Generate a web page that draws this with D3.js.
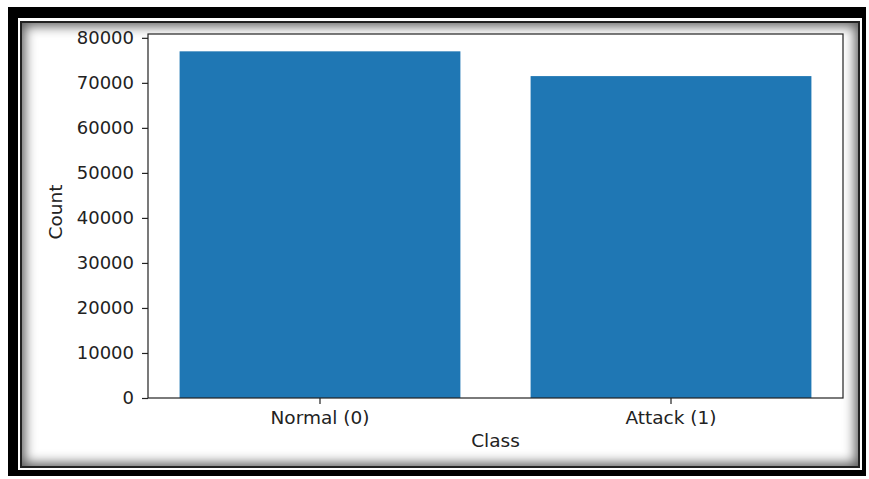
<!DOCTYPE html>
<html>
<head>
<meta charset="utf-8">
<script src="https://cdn.jsdelivr.net/npm/d3@7"></script>
<style>
    body { margin: 0; background: #fff; width: 869px; height: 479px; overflow: hidden; position: relative; }
    .frame-outer {
        position: absolute; left: 8px; top: 7px; width: 858px; height: 469px;
        background: #000; box-sizing: border-box;
    }
    .frame-gap {
        position: absolute; left: 18px; top: 18px; width: 844px; height: 452px;
        background: #fff;
    }
    .frame-inner {
        position: absolute; left: 20px; top: 21px; width: 840px; height: 447px;
        box-sizing: border-box; border: 2px solid #222; background: #fff;
        box-shadow: inset 0 0 12px 3px rgba(0,0,0,0.65);
    }
    #chart { position: absolute; left: 0; top: 0; }
</style>
</head>
<body>
<div class="frame-outer"></div>
<div class="frame-gap"></div>
<div class="frame-inner"></div>
<svg id="chart" width="869" height="479"></svg>
<script>
// Class balance bar chart

const categories = ['Normal (0)', 'Attack (1)'];
const counts = [77000, 71500];
const yTicks = [0, 10000, 20000, 30000, 40000, 50000, 60000, 70000, 80000];

const svg = d3.select('#chart');
const font = 'DejaVu Sans, sans-serif';

const plot = { left: 148, right: 843, top: 34, bottom: 398 };

const x = d3.scaleBand()
    .domain(categories)
    .range([plot.left, plot.right])
    .paddingInner(0.2)
    .paddingOuter(0.09);

const y = d3.scaleLinear()
    .domain([0, d3.max(counts) * 1.05])
    .range([plot.bottom, plot.top]);

// axes background
svg.append('rect')
    .attr('x', plot.left)
    .attr('y', plot.top)
    .attr('width', plot.right - plot.left)
    .attr('height', plot.bottom - plot.top)
    .style('fill', '#fff');

// bars
svg.append('g')
    .selectAll('rect')
    .data(categories)
    .enter()
    .append('rect')
    .attr('x', d => x(d))
    .attr('y', (d, i) => y(counts[i]))
    .attr('width', x.bandwidth())
    .attr('height', (d, i) => y(0) - y(counts[i]))
    .style('fill', '#1f77b4');

// spines
svg.append('rect')
    .attr('x', plot.left)
    .attr('y', plot.top)
    .attr('width', plot.right - plot.left)
    .attr('height', plot.bottom - plot.top)
    .style('fill', 'none')
    .style('stroke', '#222')
    .style('stroke-width', 1.2);

// y axis
const yAxis = svg.append('g')
    .attr('transform', `translate(${plot.left},0)`)
    .call(d3.axisLeft(y).tickValues(yTicks).tickSize(6).tickPadding(8).tickFormat(d3.format('d')));
yAxis.select('.domain').remove();
yAxis.selectAll('line').style('stroke', '#222').style('stroke-width', 1.2);
yAxis.selectAll('text')
    .style('font-family', font)
    .style('font-size', '18px')
    .style('fill', '#222');

// x axis
const xAxis = svg.append('g')
    .attr('transform', `translate(0,${plot.bottom})`)
    .call(d3.axisBottom(x).tickSize(6).tickPadding(7));
xAxis.select('.domain').remove();
xAxis.selectAll('line').style('stroke', '#222').style('stroke-width', 1.2);
xAxis.selectAll('text')
    .style('font-family', font)
    .style('font-size', '18.5px')
    .style('fill', '#222');

// axis labels
svg.append('text')
    .attr('x', (plot.left + plot.right) / 2)
    .attr('y', 447)
    .attr('text-anchor', 'middle')
    .style('font-family', font)
    .style('font-size', '18.5px')
    .style('fill', '#222')
    .text('Class');

svg.append('text')
    .attr('transform', `translate(62,${(plot.top + plot.bottom) / 2 - 4}) rotate(-90)`)
    .attr('text-anchor', 'middle')
    .style('font-family', font)
    .style('font-size', '18.5px')
    .style('fill', '#222')
    .text('Count');
</script>
</body>
</html>
